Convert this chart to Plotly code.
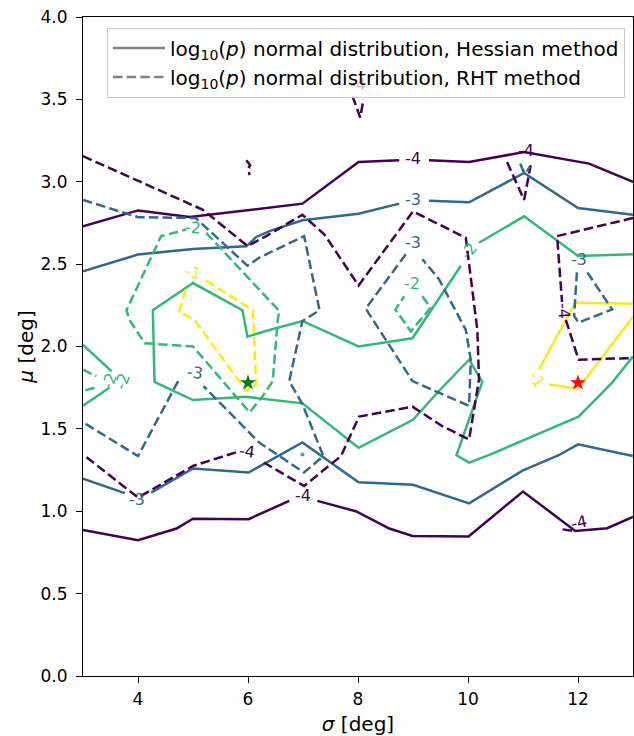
import plotly.graph_objects as go

# ---------------- data ----------------
LEVEL_COLORS = {-4: "#440154", -3: "#31688e", -2: "#35b779", -1: "#fde725"}

x_tick_values = [4, 6, 8, 10, 12]
y_tick_values = [0.0, 0.5, 1.0, 1.5, 2.0, 2.5, 3.0, 3.5, 4.0]
y_tick_labels = ["0.0", "0.5", "1.0", "1.5", "2.0", "2.5", "3.0", "3.5", "4.0"]

# Hessian method contours (solid); None = gap left for an inline label
hess_m4_upper_sigma = [3.0, 4.0, 4.94, 6.99, 8.01, 8.75, None, 9.29, 10.02, 11.02, 12.2, 13.0]
hess_m4_upper_mu = [2.73, 2.826, 2.786, 2.867, 3.12, 3.13, None, 3.13, 3.12, 3.18, 3.11, 3.0]

hess_m4_lower_sigma = [3.0, 4.0, 4.7, 5.0, 6.01, 6.75, None, 7.26, 7.96, 8.57, 8.99, 10.01, 11.0, 11.95, 12.53, 13.0]
hess_m4_lower_mu = [0.887, 0.824, 0.895, 0.955, 0.952, 1.063, None, 1.063, 1.0, 0.895, 0.85, 0.847, 1.12, 0.88, 0.897, 0.966]

hess_m3_upper_sigma = [3.0, 4.0, 5.0, 5.97, 6.15, 6.39, 6.99, 8.01, 8.75, None, 9.29, 10.02, 11.02, 12.0, 13.0]
hess_m3_upper_mu = [2.457, 2.558, 2.592, 2.608, 2.665, 2.70, 2.766, 2.806, 2.867, None, 2.885, 2.875, 3.053, 2.84, 2.80]

hess_m3_lower_sigma = [3.0, 3.76, None, 4.24, 5.0, 6.01, 6.99, 8.01, 9.0, 10.02, 10.99, 11.65, 12.0, 13.0]
hess_m3_lower_mu = [1.198, 1.11, None, 1.113, 1.26, 1.235, 1.418, 1.176, 1.161, 1.048, 1.246, 1.34, 1.406, 1.335]

hess_m2_main_sigma = [13.0, 12.0, 11.02, 10.2, None, 9.87, 8.99, 8.01, 6.99, 6.39, 5.99, 5.9, 5.0, 4.27, 4.3,
                      5.0, 5.97, 6.99, 8.01, 9.0, 9.47, 10.02, 10.26, 9.79, 10.02, 10.41, 12.01, 12.62, 13.0]
hess_m2_main_mu = [2.56, 2.55, 2.79, 2.63, None, 2.49, 2.05, 2.0, 2.155, 2.10, 2.06, 2.22, 2.385, 2.22, 1.785,
                   1.675, 1.695, 1.655, 1.385, 1.555, 1.73, 1.92, 1.785, 1.34, 1.295, 1.345, 1.574, 1.78, 1.94]

hess_m2_edge_sigma = [3.0, 3.52, None, 3.48, 3.0]
hess_m2_edge_mu = [2.01, 1.85, None, 1.75, 1.64]

hess_m1_sigma = [13.0, 11.95, 11.29, None, 11.47, 12.0, 13.0]
hess_m1_mu = [2.26, 2.265, 1.86, None, 1.77, 1.744, 2.18]

# RHT method contours (dashed)
rht_m4_main_sigma = [3.0, 5.18, 5.99, 6.33, 6.99, 7.39, 8.01, 9.0, 9.66, 9.96, 10.17, 10.2, 10.02, 9.53, 8.99,
                     8.02, 7.69, 7.02, 6.24, None, 5.78, 5.0, 4.0, 3.0]
rht_m4_main_mu = [3.155, 2.83, 2.61, 2.67, 2.80, 2.68, 2.37, 2.82, 2.71, 2.66, 2.10, 1.80, 1.436, 1.517, 1.635,
                  1.575, 1.335, 1.153, 1.305, None, 1.357, 1.275, 1.083, 1.345]

rht_m4_right_sigma = [13.0, 11.62, 11.71, None, 11.78, 12.01, 13.0]
rht_m4_right_mu = [2.78, 2.67, 2.27, None, 2.16, 1.92, 1.93]

rht_m4_v11_sigma = [10.71, 11.02, 11.14]
rht_m4_v11_mu = [3.12, 2.89, 3.10]

rht_m4_v8_sigma = [7.9, 8.04, 8.1]
rht_m4_v8_mu = [3.52, 3.39, 3.5]

rht_m4_s6_sigma = [5.97, 6.04, 6.0, 6.03]
rht_m4_s6_mu = [3.13, 3.10, 3.08, 3.04]

rht_m4_b12_sigma = [11.72, 11.95]
rht_m4_b12_mu = [0.89, 0.878]

rht_m3_left_sigma = [3.0, 4.0, 5.05, 5.99, 6.21, 7.02, 7.30, 6.99, 6.75, 6.99, 7.37, 7.02, 6.21, 5.19, None,
                     4.73, 4.0, 3.0]
rht_m3_left_mu = [2.89, 2.785, 2.78, 2.49, 2.54, 2.67, 2.22, 2.155, 1.79, 1.65, 1.335, 1.235, 1.415, 1.76, None,
                  1.79, 1.335, 1.54]

rht_m3_mid_sigma = [8.87, 8.14, 8.99, 9.66, 10.02, 10.05, 9.96, 9.47, 9.17]
rht_m3_mid_mu = [2.56, 2.23, 1.79, 1.69, 1.64, 1.92, 2.10, 2.41, 2.53]

rht_m3_right_sigma = [12.17, 12.62, 12.01, 11.93, 11.98]
rht_m3_right_mu = [2.45, 2.225, 2.145, 2.185, 2.45]

rht_m3_v11_sigma = [10.95, 11.0, 11.05, 11.12]
rht_m3_v11_mu = [3.11, 3.07, 3.05, 3.09]

rht_m2_left_sigma = [5.24, 6.39, 6.57, 6.54, 6.45, 6.27, 6.03, 5.0, 4.12, 3.85, 3.79, 4.42, 4.88]
rht_m2_left_mu = [2.69, 2.285, 2.215, 2.16, 1.79, 1.70, 1.60, 2.0, 2.02, 2.16, 2.22, 2.67, 2.71]

rht_m2_mid_sigma = [9.17, 9.32, 8.96, 8.68, 8.84]
rht_m2_mid_mu = [2.305, 2.235, 2.092, 2.224, 2.305]

rht_m2_edge_sigma = [3.0, 3.24, None, 3.21, 3.0]
rht_m2_edge_mu = [1.86, 1.82, None, 1.75, 1.73]

rht_m2_dot_sigma = [6.99]
rht_m2_dot_mu = [1.345]

rht_m1_sigma = [5.24, 6.09, 6.15, 5.97, 5.03, 4.75, 4.88]
rht_m1_mu = [2.40, 2.22, 1.77, 1.73, 2.16, 2.21, 2.36]

# Inline contour labels
label_sigma = [9.0, 7.0, 9.0, 3.99, 10.02, 3.71, 11.26,
               5.99, 12.02, 11.05, 8.0, 11.75, 5.03, 9.0, 12.01, 5.0, 8.99, 3.47, 5.0]
label_mu = [3.14, 1.097, 2.89, 1.073, 2.58, 1.79, 1.80,
            1.36, 0.93, 3.19, 3.59, 2.215, 1.84, 2.63, 2.53, 2.72, 2.385, 1.79, 2.45]
label_level = [-4, -4, -3, -3, -2, -2, -1,
               -4, -4, -4, -4, -4, -3, -3, -3, -2, -2, -2, -1]
label_angle = [0, 0, 0, 0, -52, -70, 56,
               8, -12, 0, 0, 86, 8, 0, 0, 3, 0, -70, 15]

best_hess_sigma, best_hess_mu = [6.0], [1.78]
best_rht_sigma, best_rht_mu = [12.0], [1.78]

# ---------------- figure ----------------
hessian_paths = [
    (-4, hess_m4_upper_sigma, hess_m4_upper_mu),
    (-4, hess_m4_lower_sigma, hess_m4_lower_mu),
    (-3, hess_m3_upper_sigma, hess_m3_upper_mu),
    (-3, hess_m3_lower_sigma, hess_m3_lower_mu),
    (-2, hess_m2_main_sigma, hess_m2_main_mu),
    (-2, hess_m2_edge_sigma, hess_m2_edge_mu),
    (-1, hess_m1_sigma, hess_m1_mu),
]
rht_paths = [
    (-4, rht_m4_main_sigma, rht_m4_main_mu),
    (-4, rht_m4_right_sigma, rht_m4_right_mu),
    (-4, rht_m4_v11_sigma, rht_m4_v11_mu),
    (-4, rht_m4_v8_sigma, rht_m4_v8_mu),
    (-4, rht_m4_s6_sigma, rht_m4_s6_mu),
    (-4, rht_m4_b12_sigma, rht_m4_b12_mu),
    (-3, rht_m3_left_sigma, rht_m3_left_mu),
    (-3, rht_m3_mid_sigma, rht_m3_mid_mu),
    (-3, rht_m3_right_sigma, rht_m3_right_mu),
    (-3, rht_m3_v11_sigma, rht_m3_v11_mu),
    (-2, rht_m2_left_sigma, rht_m2_left_mu),
    (-2, rht_m2_mid_sigma, rht_m2_mid_mu),
    (-2, rht_m2_edge_sigma, rht_m2_edge_mu),
    (-1, rht_m1_sigma, rht_m1_mu),
]

LW = 2.5
DASH = "9.5px,4.2px"

fig = go.Figure()
for level, s, m in hessian_paths:
    fig.add_trace(go.Scatter(x=s, y=m, mode="lines", connectgaps=False, showlegend=False, hoverinfo="skip",
                             line=dict(color=LEVEL_COLORS[level], width=LW)))
for level, s, m in rht_paths:
    fig.add_trace(go.Scatter(x=s, y=m, mode="lines", connectgaps=False, showlegend=False, hoverinfo="skip",
                             line=dict(color=LEVEL_COLORS[level], width=LW, dash=DASH)))

fig.add_trace(go.Scatter(x=rht_m2_dot_sigma, y=rht_m2_dot_mu, mode="markers", showlegend=False,
                         hoverinfo="skip", marker=dict(color=LEVEL_COLORS[-2], size=4)))

fig.add_trace(go.Scatter(x=best_hess_sigma, y=best_hess_mu, mode="markers", showlegend=False,
                         marker=dict(symbol="star", color="#008000", size=12, line=dict(width=0))))
fig.add_trace(go.Scatter(x=best_rht_sigma, y=best_rht_mu, mode="markers", showlegend=False,
                         marker=dict(symbol="star", color="#ff0000", size=12, line=dict(width=0))))

# legend proxies
fig.add_trace(go.Scatter(x=[None], y=[None], mode="lines",
                         name="log<sub>10</sub>(<i>p</i>) normal distribution, Hessian method",
                         line=dict(color="gray", width=LW)))
fig.add_trace(go.Scatter(x=[None], y=[None], mode="lines",
                         name="log<sub>10</sub>(<i>p</i>) normal distribution, RHT method",
                         line=dict(color="gray", width=LW, dash=DASH)))

for s, m, lev, ang in zip(label_sigma, label_mu, label_level, label_angle):
    col = LEVEL_COLORS[lev]
    if m > 3.55:
        col = "rgba(68,1,84,0.3)"
    fig.add_annotation(x=s, y=m, xref="x", yref="y", text=str(lev), showarrow=False,
                       textangle=ang, font=dict(color=col, size=16, family="DejaVu Sans"))

fig.update_layout(
    width=634, height=736,
    margin=dict(l=83, r=1, t=17, b=60, autoexpand=False),
    paper_bgcolor="white", plot_bgcolor="white",
    font=dict(family="DejaVu Sans", size=17, color="black"),
    xaxis=dict(range=[3, 13], tickvals=x_tick_values, showline=True, mirror=True, linecolor="black",
               linewidth=1, ticks="outside", ticklen=6, tickcolor="black", showgrid=False, zeroline=False,
               automargin=False, ticklabelstandoff=2, title=dict(text="<i>σ</i> [deg]", standoff=10)),
    yaxis=dict(range=[0, 4], tickvals=y_tick_values, ticktext=y_tick_labels, showline=True, mirror=True,
               linecolor="black", linewidth=1, ticks="outside", ticklen=6, tickcolor="black",
               showgrid=False, zeroline=False, automargin=False, ticklabelstandoff=5,
               title=dict(text="<i>μ</i> [deg]", standoff=1)),
    legend=dict(x=0.0436, y=0.984, xanchor="left", yanchor="top", bgcolor="rgba(255,255,255,0.8)",
                bordercolor="#cccccc", borderwidth=1, itemwidth=52,
                font=dict(size=20)),
)

fig.write_html("out.html", config={"displayModeBar": False},
               post_script="document.body.style.margin='0px';document.body.style.overflow='hidden';")
